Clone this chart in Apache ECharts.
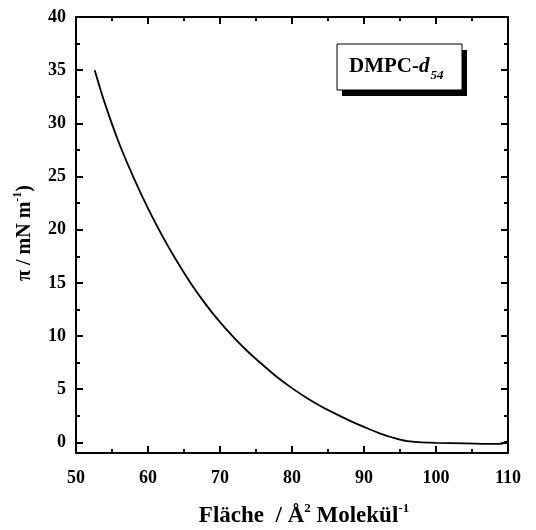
<!DOCTYPE html>
<html>
<head>
<meta charset="utf-8">
<script src="https://cdn.jsdelivr.net/npm/echarts@6/dist/echarts.min.js"></script>
<style>html,body{margin:0;padding:0;background:#fff}#c{width:536px;height:530px}</style>
</head>
<body>
<div id="c"></div>
<script>
// Isotherm data (area per molecule in Å², surface pressure in mN/m)
const areaValues = [52.6, 54, 56, 58, 60, 62, 64, 66, 68, 70, 72, 74, 76, 78, 80, 82, 84, 86, 88, 90, 92, 94, 95, 96, 97, 98, 100, 104, 108.7, 109.3, 109.6, 110];
const pressureValues = [35.0, 31.9, 28.1, 24.9, 22.0, 19.4, 17.05, 14.9, 13.0, 11.3, 9.8, 8.45, 7.25, 6.1, 5.1, 4.2, 3.4, 2.7, 2.05, 1.45, 0.9, 0.45, 0.26, 0.12, 0.05, 0.0, -0.05, -0.1, -0.15, -0.1, 0.05, 0.05];
const yMajorTicks = [0, 5, 10, 15, 20, 25, 30, 35, 40];
const yMinorTicks = [2.5, 7.5, 12.5, 17.5, 22.5, 27.5, 32.5, 37.5];
const xTickLabels = [50, 60, 70, 80, 90, 100, 110];
const legendLabel = ['DMPC-', 'd', '54'];
const xTitle = ['Fläche  / Å', '2', ' Molekül', '-1'];
const yTitle = ['π / mN m', '-1', ')'];

const FONT = '"Liberation Serif", "DejaVu Serif", serif';
const chart = echarts.init(document.getElementById('c'), null, {renderer: 'canvas'});
const data = areaValues.map((a, i) => [a, pressureValues[i]]);

const axisLine = {show: true, onZero: false, lineStyle: {color: '#000', width: 2}};
const baseX = {type: 'value', min: 50, max: 110, interval: 10, axisLine, splitLine: {show: false}};
const baseY = {type: 'value', min: -1, max: 40, axisLine, splitLine: {show: false}};

chart.setOption({
  animation: false,
  backgroundColor: '#fff',
  grid: {left: 76, right: 28, top: 17, bottom: 77, containLabel: false},
  xAxis: [
    Object.assign({}, baseX, {
      position: 'bottom',
      axisTick: {show: true, inside: true, length: 7, lineStyle: {color: '#000', width: 2}},
      minorTick: {show: true, splitNumber: 2, length: 4, lineStyle: {color: '#000', width: 2}},
      axisLabel: {show: true, margin: 16, color: '#000', fontFamily: FONT, fontWeight: 'bold', fontSize: 18,
        formatter: v => xTickLabels.indexOf(v) >= 0 ? String(v) : ''}
    }),
    Object.assign({}, baseX, {
      position: 'top',
      axisTick: {show: true, inside: true, length: 7, lineStyle: {color: '#000', width: 2}},
      minorTick: {show: true, splitNumber: 2, length: 4, lineStyle: {color: '#000', width: 2}},
      axisLabel: {show: false}
    })
  ],
  yAxis: [
    Object.assign({}, baseY, {
      position: 'left',
      axisTick: {show: true, inside: true, length: 7, customValues: yMajorTicks, lineStyle: {color: '#000', width: 2}},
      axisLabel: {show: true, margin: 10, color: '#000', fontFamily: FONT, fontWeight: 'bold', fontSize: 18, customValues: yMajorTicks}
    }),
    Object.assign({}, baseY, {
      position: 'left',
      axisLine: {show: false},
      axisTick: {show: true, inside: true, length: 4, customValues: yMinorTicks, lineStyle: {color: '#000', width: 2}},
      axisLabel: {show: false}
    }),
    Object.assign({}, baseY, {
      position: 'right',
      axisTick: {show: true, inside: true, length: 7, customValues: yMajorTicks, lineStyle: {color: '#000', width: 2}},
      axisLabel: {show: false}
    }),
    Object.assign({}, baseY, {
      position: 'right',
      axisLine: {show: false},
      axisTick: {show: true, inside: true, length: 4, customValues: yMinorTicks, lineStyle: {color: '#000', width: 2}},
      axisLabel: {show: false}
    })
  ],
  series: [{
    type: 'line',
    xAxisIndex: 0,
    yAxisIndex: 0,
    data: data,
    showSymbol: false,
    smooth: 0.35,
    lineStyle: {color: '#000', width: 1.8}
  }],
  graphic: [
    {type: 'rect', shape: {x: 342, y: 50, width: 125, height: 46}, style: {fill: '#000'}, z: 10},
    {type: 'rect', shape: {x: 337, y: 44, width: 125, height: 46}, style: {fill: '#fff', stroke: '#000', lineWidth: 1}, z: 11},
    {type: 'text', x: 349, y: 67, z: 12, style: {
      text: '{a|' + legendLabel[0] + '}{b|' + legendLabel[1] + '}{s|' + legendLabel[2] + '}',
      verticalAlign: 'middle', fill: '#000',
      rich: {
        a: {fontFamily: FONT, fontWeight: 'bold', fontSize: 21, lineHeight: 30, verticalAlign: 'middle'},
        b: {fontFamily: FONT, fontWeight: 'bold', fontStyle: 'italic', fontSize: 21, lineHeight: 30, verticalAlign: 'middle'},
        s: {fontFamily: FONT, fontWeight: 'bold', fontStyle: 'italic', fontSize: 13, lineHeight: 30, verticalAlign: 'bottom', padding: [0, 0, 0, 1]}
      }
    }},
    {type: 'text', x: 304, y: 516, z: 12, style: {
      text: '{m|' + xTitle[0] + '}{p|' + xTitle[1] + '}{m|' + xTitle[2] + '}{p|' + xTitle[3] + '}',
      align: 'center', verticalAlign: 'middle', fill: '#000',
      rich: {
        m: {fontFamily: FONT, fontWeight: 'bold', fontSize: 23, lineHeight: 28, verticalAlign: 'middle'},
        p: {fontFamily: FONT, fontWeight: 'bold', fontSize: 13, lineHeight: 28, verticalAlign: 'top'}
      }
    }},
    {type: 'text', x: 25, y: 233, rotation: Math.PI / 2, z: 12, style: {
      text: '{m|' + yTitle[0] + '}{p|' + yTitle[1] + '}{m|' + yTitle[2] + '}',
      align: 'center', verticalAlign: 'middle', fill: '#000',
      rich: {
        m: {fontFamily: FONT, fontWeight: 'bold', fontSize: 20, lineHeight: 26, verticalAlign: 'middle'},
        p: {fontFamily: FONT, fontWeight: 'bold', fontSize: 12, lineHeight: 26, verticalAlign: 'top'}
      }
    }}
  ]
});
</script>
</body>
</html>
